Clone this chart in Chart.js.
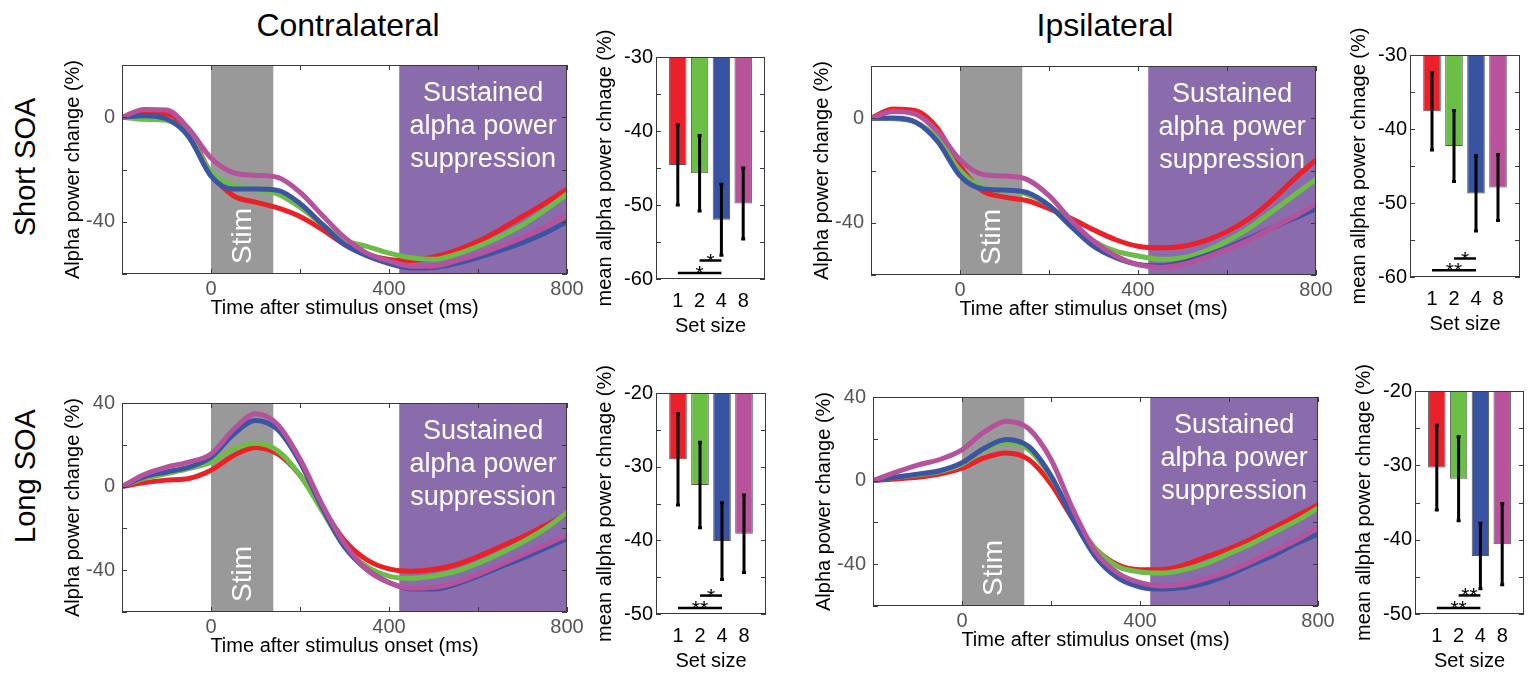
<!DOCTYPE html>
<html>
<head>
<meta charset="utf-8">
<script src="https://cdn.jsdelivr.net/npm/chart.js@4.4.1/dist/chart.umd.min.js"></script>
<style>
  body { margin: 0; background: #fff; width: 1538px; height: 673px; position: relative; overflow: hidden;
         font-family: 'Liberation Sans', Arial, sans-serif; }
  canvas { position: absolute; }
  .lbl { position: absolute; font-size: 29px; color: #000; white-space: nowrap; transform: translate(-50%, -50%); }
  .ttl { font-size: 32px; }
  .rot { transform: translate(-50%, -50%) rotate(-90deg); }
</style>
</head>
<body>
<div class="lbl ttl" style="left:348px; top:25px">Contralateral</div>
<div class="lbl ttl" style="left:1105px; top:25px">Ipsilateral</div>
<div class="lbl rot" style="left:25px; top:167px">Short SOA</div>
<div class="lbl rot" style="left:25px; top:476px">Long SOA</div>
<script>
// time axis (ms after stimulus onset)
const timeMs = [-200, -150, -100, -50, 0, 50, 100, 150, 200, 250, 300, 350, 400, 450, 500, 550, 600, 650, 700, 750, 800];
const setSizes = ['1', '2', '4', '8'];
const stimWindow = [0, 140];
const sustainedWindow = [423, 800];

// short SOA, contralateral (set size 1, 2, 4, 8)
const contraShort1 = [0, 1.5, 1.2, -5.6, -21.5, -30, -32.5, -34.7, -38, -43, -48.7, -52.5, -54.4, -54.8, -53.5, -51, -47.5, -43, -38, -33, -27.5];
const contraShort2 = [0, -0.8, -1.2, -7, -21, -26, -27.7, -29.4, -34.4, -41, -47, -49.4, -52, -53.8, -54.4, -52.5, -49.4, -45.6, -41.2, -35.6, -29.4];
const contraShort4 = [0, 0.6, -0.6, -7.5, -22.5, -27.5, -27.5, -28, -33, -41, -48.7, -53, -56, -57.7, -57.5, -56, -53.7, -51, -48, -44.4, -40];
const contraShort8 = [0, 3, 2.8, -4.4, -15.6, -21.2, -22.2, -23, -28.7, -37.5, -46, -52, -55, -57, -57, -55, -52.5, -49.4, -46, -42, -37];

// short SOA, ipsilateral
const ipsiShort1 = [0, 3.5, 2.9, -4, -18.4, -27.7, -30.2, -31.5, -34.6, -38.4, -42.7, -46.5, -49, -49.6, -49, -46.9, -43.4, -38.4, -31.5, -23.4, -15.9];
const ipsiShort2 = [0, -0.2, -1.5, -7.7, -20, -26.5, -27.7, -29, -33.4, -40.9, -47, -50.9, -52.7, -54, -53.4, -50.9, -47, -42, -35.9, -29.6, -23.4];
const ipsiShort4 = [0, 0.1, -1.5, -9, -22, -27, -27.5, -28.4, -33.4, -41.5, -49, -53.4, -56, -56.5, -55.2, -52.7, -49.6, -45.9, -42, -38.4, -34.6];
const ipsiShort8 = [0, 2.6, 1.6, -5.2, -15.9, -21.5, -22.1, -23.4, -29.6, -39, -47, -52.7, -56, -57.1, -56, -53.4, -50.2, -46.5, -42, -37.7, -32.7];

// long SOA, contralateral
const contraLong1 = [0, 1.9, 3.1, 3.9, 7.8, 14.8, 18.7, 15.6, 5.4, -10.1, -25.7, -35, -39.4, -40.5, -39.7, -37.4, -33.5, -28.8, -24.1, -18.7, -13.2];
const contraLong2 = [0, 3.9, 6.2, 8.6, 11.7, 17.9, 20.7, 17.1, 5.4, -11.7, -28.8, -38.1, -42.8, -43.9, -42.8, -40.5, -36.6, -31.9, -26.5, -20.2, -12.5];
const contraLong4 = [0, 4.7, 7, 9.3, 14, 24.9, 31.6, 27.2, 11.7, -10.1, -28.8, -39.7, -45.9, -49, -49, -46.7, -42.8, -38.4, -34.2, -29.6, -24.9];
const contraLong8 = [0, 5.8, 9.3, 11.7, 15.6, 27.2, 34.8, 29.6, 13.2, -8.6, -27.2, -39.7, -45.9, -48.6, -48.2, -45.9, -42, -37.4, -32.7, -28, -23.3];

// long SOA, ipsilateral
const ipsiLong1 = [0, 0.8, 1.6, 3.1, 5.9, 10.9, 13.2, 10.1, -1.6, -18.6, -32.6, -40.3, -42.6, -42.6, -40.3, -36.4, -32.6, -27.9, -22.5, -17.1, -11.6];
const ipsiLong2 = [0, 1.6, 2.8, 4.3, 7.8, 14.7, 18.3, 14.7, 1.6, -17.1, -32.6, -41.1, -43.7, -44.2, -42.6, -39.5, -34.9, -30.2, -24.8, -19.4, -13.2];
const ipsiLong4 = [0, 1.6, 3.1, 4.7, 8.5, 15.5, 19.7, 16.3, 2.3, -18.6, -36.4, -46.5, -50.9, -51.9, -51.2, -48.8, -45, -40.3, -35.7, -30.2, -25.6];
const ipsiLong8 = [0, 3.9, 7.4, 10.1, 14.7, 23.3, 28.4, 24.8, 10.1, -14, -34.1, -44.2, -48.8, -50.4, -49.6, -46.8, -43.4, -38.8, -33.8, -28.7, -22.5];

// mean alpha power change per set size, with error (half length of bar)
const meanContraShort = [-44.6, -45.7, -52.0, -49.8];
const errContraShort = [5.4, 5.1, 4.8, 4.8];
const sigContraShort = [[0, 2, -59.2, '*'], [1, 2, -57.5, '*']];

const meanIpsiShort = [-37.6, -42.3, -48.7, -47.9];
const errIpsiShort = [5.25, 4.8, 5.1, 4.45];
const sigIpsiShort = [[0, 2, -59.1, '**'], [1, 2, -57.5, '*']];

const meanContraLong = [-29.0, -32.5, -40.1, -39.1];
const errContraLong = [6.2, 5.8, 5.2, 5.25];
const sigContraLong = [[0, 2, -49.2, '**'], [1, 2, -47.5, '*']];

const meanIpsiLong = [-30.3, -31.8, -42.2, -40.6];
const errIpsiLong = [5.7, 5.65, 4.4, 5.45];
const sigIpsiLong = [[0, 2, -49.2, '**'], [1, 2, -47.5, '**']];

const lineColors = ['#ec2027', '#6cbd45', '#3b54a4', '#b6519c'];
const barColors = ['#e9212b', '#6bbe46', '#3953a3', '#b7529b'];

Chart.defaults.font.family = "'Liberation Sans', Arial, sans-serif";

const shadePlugin = {
  id: 'shade',
  beforeDatasetsDraw(chart) {
    const {ctx, chartArea: a, scales: {x}} = chart;
    const s0 = x.getPixelForValue(stimWindow[0]), s1 = x.getPixelForValue(stimWindow[1]);
    const p0 = x.getPixelForValue(sustainedWindow[0]), p1 = x.getPixelForValue(sustainedWindow[1]);
    ctx.save();
    ctx.fillStyle = '#999999';
    ctx.fillRect(s0, a.top, s1 - s0, a.height);
    ctx.fillStyle = '#8a6cad';
    ctx.fillRect(p0, a.top, p1 - p0, a.height);
    ctx.fillStyle = '#fff';
    ctx.font = "27px 'Liberation Sans', Arial, sans-serif";
    ctx.textAlign = 'center';
    ctx.textBaseline = 'middle';
    ['Sustained', 'alpha power', 'suppression'].forEach((t, i) => {
      ctx.fillText(t, (p0 + p1) / 2, a.top + 29 + i * 33);
    });
    ctx.font = "28px 'Liberation Sans', Arial, sans-serif";
    ctx.translate((s0 + s1) / 2 + 1, a.bottom - 38);
    ctx.rotate(-Math.PI / 2);
    ctx.fillText('Stim', 0, 0);
    ctx.restore();
  }
};

function framePlugin(xTicks) {
  return {
    id: 'frame',
    afterDatasetsDraw(chart) {
      const {ctx, chartArea: a, scales: {x, y}} = chart;
      ctx.save();
      ctx.strokeStyle = '#3a3a3a';
      ctx.lineWidth = 1;
      ctx.strokeRect(a.left + 0.5, a.top + 0.5, a.width - 1, a.height - 1);
      ctx.beginPath();
      y.ticks.forEach(t => {
        const py = Math.round(y.getPixelForValue(t.value)) + 0.5;
        ctx.moveTo(a.left, py); ctx.lineTo(a.left + 5, py);
        ctx.moveTo(a.right, py); ctx.lineTo(a.right - 5, py);
      });
      if (xTicks) {
        x.ticks.forEach(t => {
          const px = Math.round(x.getPixelForValue(t.value)) + 0.5;
          ctx.moveTo(px, a.bottom); ctx.lineTo(px, a.bottom - 5);
          ctx.moveTo(px, a.top); ctx.lineTo(px, a.top + 5);
        });
      }
      ctx.stroke();
      ctx.restore();
    }
  };
}

function errPlugin(means, errs, sigs) {
  return {
    id: 'errbars',
    afterDatasetsDraw(chart) {
      const {ctx, scales: {x, y}} = chart;
      ctx.save();
      ctx.strokeStyle = '#000';
      ctx.lineWidth = 3;
      means.forEach((m, i) => {
        const px = x.getPixelForValue(i + 1);
        const y0 = y.getPixelForValue(m + errs[i]), y1 = y.getPixelForValue(m - errs[i]);
        ctx.beginPath();
        ctx.moveTo(px, y0); ctx.lineTo(px, y1);
        ctx.moveTo(px - 2, y0); ctx.lineTo(px + 2, y0);
        ctx.moveTo(px - 2, y1); ctx.lineTo(px + 2, y1);
        ctx.stroke();
      });
      ctx.lineWidth = 2.5;
      ctx.fillStyle = '#000';
      ctx.font = "21px 'Liberation Sans', Arial, sans-serif";
      ctx.textAlign = 'center';
      ctx.textBaseline = 'alphabetic';
      sigs.forEach(([a, b, v, label]) => {
        const xa = x.getPixelForValue(a + 1), xb = x.getPixelForValue(b + 1), py = y.getPixelForValue(v);
        ctx.beginPath();
        ctx.moveTo(xa, py); ctx.lineTo(xb, py);
        ctx.stroke();
        ctx.fillText(label, (xa + xb) / 2, py + 7);
      });
      ctx.restore();
    }
  };
}

function addCanvas(area, yW, xH, pt, pr) {
  const cv = document.createElement('canvas');
  cv.width = yW + area.r - area.l + pr;
  cv.height = pt + area.b - area.t + xH;
  cv.style.left = (area.l - yW) + 'px';
  cv.style.top = (area.t - pt) + 'px';
  document.body.appendChild(cv);
  return cv;
}

function makeLine(area, series, yMin, yMax) {
  const yW = 65, xH = 50, pt = 14, pr = 22;
  const cv = addCanvas(area, yW, xH, pt, pr);
  new Chart(cv, {
    type: 'line',
    data: {
      datasets: series.map((s, i) => ({
        data: s.map((v, j) => ({x: timeMs[j], y: v})),
        borderColor: lineColors[i],
        borderWidth: 5,
        pointRadius: 0,
        fill: false,
        cubicInterpolationMode: 'monotone',
        order: series.length - i
      }))
    },
    options: {
      responsive: false,
      animation: false,
      layout: {padding: {top: pt, right: pr, left: 0, bottom: 0}},
      plugins: {legend: {display: false}, tooltip: {enabled: false}},
      scales: {
        x: {
          type: 'linear', min: -200, max: 800,
          afterFit: s => { s.height = xH; },
          grid: {display: false, drawTicks: false},
          border: {display: false},
          ticks: {stepSize: 200, autoSkip: false, maxRotation: 0, padding: 3, color: '#555', font: {size: 20},
                  callback: v => v % 400 === 0 ? v : ''},
          title: {display: true, text: 'Time after stimulus onset (ms)', color: '#000', font: {size: 20},
                  padding: {top: 0, bottom: 4}}
        },
        y: {
          min: yMin, max: yMax,
          afterFit: s => { s.width = yW; },
          grid: {display: false, drawTicks: false},
          border: {display: false},
          ticks: {stepSize: 20, padding: 7, color: '#555', font: {size: 20},
                  callback: v => v % 40 === 0 ? v : ''},
          title: {display: true, text: 'Alpha power change (%)', color: '#000', font: {size: 20},
                  padding: {top: 4, bottom: 0}}
        }
      }
    },
    plugins: [shadePlugin, framePlugin(true)]
  });
}

function makeBar(area, means, errs, sigs, yMin, yMax) {
  const yW = 67, xH = 63, pt = 32, pr = 8;
  const cv = addCanvas(area, yW, xH, pt, pr);
  new Chart(cv, {
    type: 'bar',
    data: {
      datasets: [{
        data: means.map((v, i) => ({x: i + 1, y: [yMax, v]})),
        backgroundColor: barColors,
        borderColor: '#555',
        borderWidth: 1,
        borderSkipped: false,
        barPercentage: 0.8,
        categoryPercentage: 1
      }]
    },
    options: {
      responsive: false,
      animation: false,
      layout: {padding: {top: pt, right: pr, left: 0, bottom: 0}},
      plugins: {legend: {display: false}, tooltip: {enabled: false}},
      scales: {
        x: {
          type: 'linear', min: 0, max: 5, offset: false,
          afterBuildTicks: s => { s.ticks = setSizes.map((_, i) => ({value: i + 1})); },
          afterFit: s => { s.height = xH; },
          grid: {display: false, drawTicks: false},
          border: {display: false},
          ticks: {autoSkip: false, maxRotation: 0, padding: 10, color: '#000', font: {size: 20},
                  callback: v => setSizes[v - 1] ?? ''},
          title: {display: true, text: 'Set size', color: '#000', font: {size: 20}, padding: {top: 0, bottom: 4}}
        },
        y: {
          min: yMin, max: yMax,
          afterFit: s => { s.width = yW; },
          grid: {display: false, drawTicks: false},
          border: {display: false},
          ticks: {stepSize: 5, padding: 3, color: '#000', font: {size: 20},
                  callback: v => v % 10 === 0 ? v : ''},
          title: {display: true, text: 'mean allpha power chnage (%)', color: '#000', font: {size: 20},
                  padding: {top: 4, bottom: 0}}
        }
      }
    },
    plugins: [errPlugin(means, errs, sigs), framePlugin(false)]
  });
}

makeLine({l: 122, t: 60, r: 567, b: 274}, [contraShort1, contraShort2, contraShort4, contraShort8], -60, 20);
makeLine({l: 871, t: 61, r: 1316, b: 275}, [ipsiShort1, ipsiShort2, ipsiShort4, ipsiShort8], -60, 20);
makeLine({l: 122, t: 398, r: 567, b: 612}, [contraLong1, contraLong2, contraLong4, contraLong8], -60, 40);
makeLine({l: 873, t: 392, r: 1318, b: 606}, [ipsiLong1, ipsiLong2, ipsiLong4, ipsiLong8], -60, 40);

makeBar({l: 656, t: 57, r: 765, b: 279}, meanContraShort, errContraShort, sigContraShort, -60, -30);
makeBar({l: 1410, t: 55, r: 1520, b: 277}, meanIpsiShort, errIpsiShort, sigIpsiShort, -60, -30);
makeBar({l: 656, t: 393, r: 766, b: 614}, meanContraLong, errContraLong, sigContraLong, -50, -20);
makeBar({l: 1415, t: 391, r: 1524, b: 614}, meanIpsiLong, errIpsiLong, sigIpsiLong, -50, -20);
</script>
</body>
</html>
